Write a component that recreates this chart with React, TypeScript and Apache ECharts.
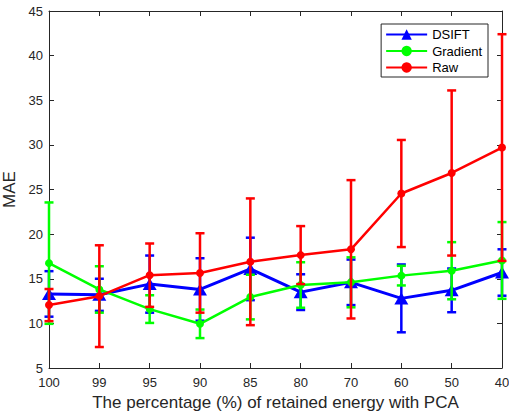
import React, { useEffect, useRef } from "react";
import * as echarts from "echarts";

const categories = ["100", "99", "95", "90", "85", "80", "70", "60", "50", "40"];
const seriesNames = ["DSIFT", "Gradient", "Raw"];
const seriesColors = ["#0000FF", "#00FF00", "#FF0000"];

const dsiftMean = [13.3, 13.2, 14.4, 13.8, 16.1, 13.5, 14.6, 12.8, 13.7, 15.7];
const dsiftErr = [2.55, 1.8, 3.2, 3.5, 3.5, 2.0, 2.55, 3.8, 2.45, 2.6];
const gradMean = [16.75, 13.8, 11.6, 9.95, 12.95, 14.3, 14.6, 15.35, 15.9, 17.05];
const gradErr = [6.8, 2.6, 1.55, 1.6, 2.5, 2.55, 2.8, 1.1, 3.2, 4.3];
const rawMean = [12.05, 13.05, 15.4, 15.65, 16.9, 17.65, 18.3, 24.55, 26.85, 29.7];
const rawErr = [1.8, 5.7, 3.55, 4.45, 7.1, 3.25, 7.75, 6.0, 9.25, 12.7];

const yTicks = { min: 5, max: 45, interval: 5 };

const AXIS = "#262626";
const FONT = "Liberation Sans, Arial, Helvetica, sans-serif";

function errData(mean: number[], err: number[]) {
  return mean.map((m, i) => [i, m - err[i], m + err[i]]);
}

function errSeries(name: string, color: string, mean: number[], err: number[], z: number) {
  return {
    type: "custom",
    name: name + "-err",
    z,
    data: errData(mean, err),
    encode: { x: 0, y: [1, 2] },
    renderItem: (_params: any, api: any) => {
      const i = api.value(0);
      const lo = api.coord([i, api.value(1)]);
      const hi = api.coord([i, api.value(2)]);
      const w = 4.5;
      const style = { stroke: color, lineWidth: 2.5, fill: "none" };
      return {
        type: "group",
        children: [
          { type: "line", shape: { x1: hi[0], y1: hi[1], x2: lo[0], y2: lo[1] }, style },
          { type: "line", shape: { x1: hi[0] - w, y1: hi[1], x2: hi[0] + w, y2: hi[1] }, style },
          { type: "line", shape: { x1: lo[0] - w, y1: lo[1], x2: lo[0] + w, y2: lo[1] }, style },
        ],
      };
    },
  };
}

function lineSeries(name: string, color: string, data: number[], symbol: string, size: any, width: number, z: number) {
  return {
    type: "line",
    name,
    z,
    data,
    symbol,
    symbolSize: size,
    showAllSymbol: true,
    itemStyle: { color },
    lineStyle: { color, width },
  };
}

export default function App() {
  const ref = useRef<HTMLDivElement>(null);
  useEffect(() => {
    if (!ref.current) return;
    const chart = echarts.init(ref.current, undefined, { renderer: "svg" });
    const tickCommon = { show: true, inside: true, length: 5, interval: 0, lineStyle: { color: AXIS, width: 1 } };
    const lineCommon = { show: true, onZero: false, lineStyle: { color: AXIS, width: 1 } };
    chart.setOption({
      animation: false,
      backgroundColor: "#ffffff",
      textStyle: { fontFamily: FONT },
      grid: { left: 49, right: 7, top: 11, bottom: 46, containLabel: false, outerBoundsMode: "none" },
      legend: {
        data: seriesNames,
        orient: "vertical",
        right: 21,
        top: 24,
        itemWidth: 41,
        itemHeight: 13,
        itemGap: 3.5,
        padding: [4, 6, 3, 4],
        borderColor: AXIS,
        borderWidth: 1,
        backgroundColor: "#ffffff",
        textStyle: { fontSize: 13, color: "#000000", fontFamily: FONT },
      },
      xAxis: [
        {
          type: "category",
          data: categories,
          boundaryGap: false,
          axisLine: lineCommon,
          axisTick: tickCommon,
          axisLabel: { interval: 0, fontSize: 13, color: AXIS, margin: 8, fontFamily: FONT },
          splitLine: { show: false },
          name: "The percentage (%) of retained energy with PCA",
          nameLocation: "middle",
          nameGap: 25,
          nameTextStyle: { fontSize: 17, color: AXIS, fontFamily: FONT },
        },
        {
          type: "category",
          position: "top",
          data: categories,
          boundaryGap: false,
          axisLine: lineCommon,
          axisTick: tickCommon,
          axisLabel: { show: false },
          splitLine: { show: false },
        },
      ],
      yAxis: [
        {
          type: "value",
          min: yTicks.min,
          max: yTicks.max,
          interval: yTicks.interval,
          axisLine: lineCommon,
          axisTick: tickCommon,
          axisLabel: { fontSize: 13, color: AXIS, margin: 6, fontFamily: FONT },
          splitLine: { show: false },
          name: "MAE",
          nameLocation: "middle",
          nameGap: 23,
          nameTextStyle: { fontSize: 17, color: AXIS, fontFamily: FONT },
        },
        {
          type: "value",
          position: "right",
          min: yTicks.min,
          max: yTicks.max,
          interval: yTicks.interval,
          axisLine: lineCommon,
          axisTick: tickCommon,
          axisLabel: { show: false },
          splitLine: { show: false },
        },
      ],
      series: [
        errSeries("DSIFT", seriesColors[0], dsiftMean, dsiftErr, 2),
        lineSeries("DSIFT", seriesColors[0], dsiftMean, "triangle", [14, 12], 3, 3),
        errSeries("Gradient", seriesColors[1], gradMean, gradErr, 4),
        lineSeries("Gradient", seriesColors[1], gradMean, "circle", 8, 2.5, 5),
        errSeries("Raw", seriesColors[2], rawMean, rawErr, 6),
        lineSeries("Raw", seriesColors[2], rawMean, "circle", 8, 2.5, 7),
      ],
    });
    return () => chart.dispose();
  }, []);
  return (
    <div
      ref={ref}
      style={{ position: "fixed", left: 0, top: 0, width: 509, height: 414, background: "#fff" }}
    />
  );
}
